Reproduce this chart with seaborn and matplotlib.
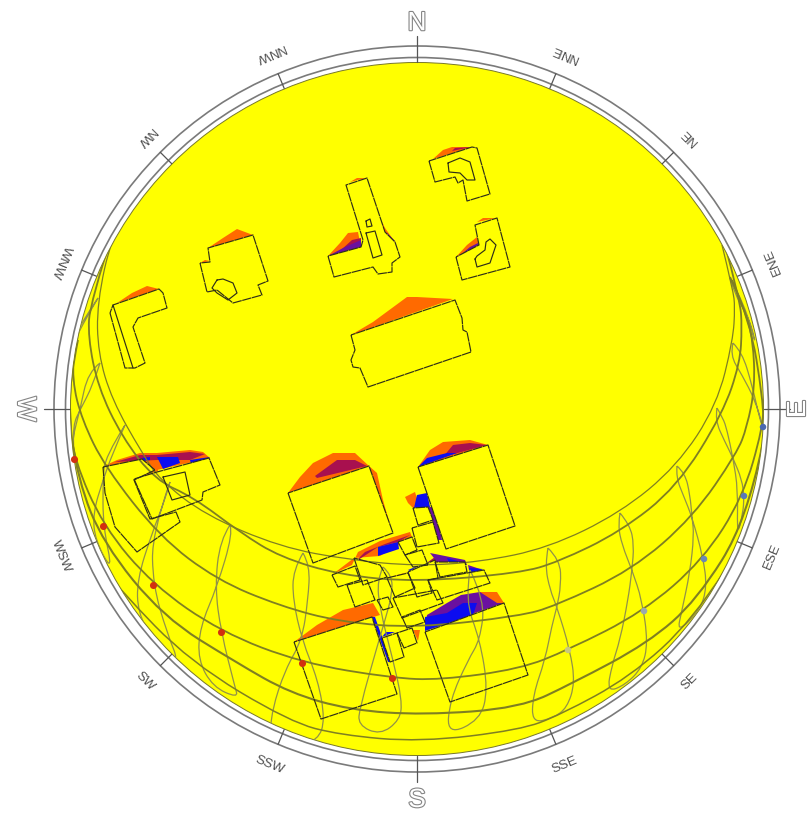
import numpy as np
import seaborn as sns
import matplotlib.pyplot as plt
import matplotlib.patheffects as pe
from matplotlib.patches import Circle, PathPatch
from matplotlib.path import Path

# compass
directions = ['N', 'NNE', 'NE', 'ENE', 'E', 'ESE', 'SE', 'SSE', 'S', 'SSW', 'SW', 'WSW', 'W', 'WNW', 'NW', 'NNW']
bearings = [0, 22.5, 45, 67.5, 90, 112.5, 135, 157.5, 180, 202.5, 225, 247.5, 270, 292.5, 315, 337.5]
major_radius = {'N': 390, 'E': 381, 'S': 391, 'W': 392}

# sun path date lines, picture coordinates
arc1 = [(125, 215), (112, 235), (97, 303), (98, 353), (112, 400), (142, 453), (160, 480), (205, 515), (280, 547), (350, 560), (416, 566), (480, 562), (548, 548), (620, 513), (677, 466), (717, 405), (733, 340), (735, 307), (733, 290), (722, 245)]
arc2 = [(115, 225), (90, 303), (88, 337), (98, 387), (122, 437), (155, 480), (193, 497), (241, 533), (280, 557), (340, 575), (416, 582), (520, 573), (558, 562), (620, 532), (677, 487), (723, 413), (740, 363), (742, 327), (740, 300), (725, 245)]
arc3 = [(95, 260), (75, 337), (72, 380), (82, 420), (105, 467), (160, 537), (217, 580), (280, 606), (340, 622), (416, 628), (520, 616), (555, 606), (632, 570), (693, 517), (737, 453), (747, 427), (755, 387), (753, 340), (745, 310), (730, 277)]
arc4 = [(78, 340), (70, 380), (70, 420), (74, 459), (103, 526), (153, 585), (221, 632), (302, 663), (392, 678), (440, 680), (520, 669), (568, 650), (643, 612), (703, 560), (743, 497), (763, 427), (763, 400), (750, 320), (732, 280)]
arc5 = [(72, 440), (78, 480), (103, 543), (163, 617), (237, 663), (290, 693), (350, 710), (423, 715), (520, 708), (573, 683), (648, 643), (697, 600), (747, 520), (762, 447)]
arc6 = [(100, 565), (120, 590), (190, 662), (290, 722), (340, 735), (420, 742), (520, 730), (560, 715), (630, 677), (693, 620), (725, 570)]
date_lines = [arc1, arc2, arc3, arc4, arc5, arc6]
date_widths = [0.9, 1.3, 1.3, 1.3, 1.5, 1.1]

# analemmas
ana1 = [(717, 408), (715, 420), (725, 442), (733, 458), (742, 480), (744, 497), (743, 513), (737, 537), (738, 490), (733, 458), (727, 430), (723, 418), (717, 408)]
ana2 = [(677, 466), (676, 477), (684, 497), (692, 517), (703, 557), (707, 587), (700, 610), (677, 633), (682, 610), (690, 572), (694, 535), (692, 517), (690, 495), (685, 473), (677, 466)]
ana3 = [(620, 513), (618, 525), (622, 545), (632, 570), (642, 600), (648, 643), (642, 668), (625, 685), (607, 692), (612, 665), (620, 640), (628, 600), (632, 570), (634, 545), (630, 525), (620, 513)]
ana4 = [(548, 548), (545, 565), (550, 590), (557, 607), (570, 650), (575, 683), (567, 708), (553, 718), (532, 723), (533, 695), (545, 660), (552, 625), (557, 607), (561, 585), (560, 560), (548, 548)]
ana5 = [(470, 570), (465, 600), (480, 640), (488, 690), (480, 720), (447, 735), (450, 700), (468, 660), (480, 640), (485, 600), (470, 570)]
ana6 = [(383, 567), (377, 580), (380, 610), (393, 660), (402, 700), (400, 720), (380, 735), (358, 725), (360, 707), (377, 647), (385, 620), (392, 595), (392, 575), (383, 567)]
ana7 = [(303, 553), (293, 570), (293, 600), (302, 640), (318, 680), (325, 720), (318, 740), (293, 748), (270, 738), (272, 710), (285, 670), (302, 640), (308, 600), (310, 565), (303, 553)]
ana8 = [(230, 525), (220, 540), (215, 587), (221, 632), (235, 687), (238, 698), (213, 687), (198, 660), (200, 627), (217, 587), (233, 533), (230, 525)]
ana9 = [(170, 482), (152, 533), (153, 585), (167, 633), (180, 665), (153, 640), (138, 613), (137, 580), (152, 533), (165, 500), (170, 482)]
ana10 = [(125, 425), (105, 457), (103, 480), (103, 526), (113, 573), (95, 540), (93, 513), (103, 480), (112, 455), (125, 425)]
ana11 = [(100, 363), (88, 372), (80, 410), (72, 440), (74, 459), (73, 425), (80, 410), (93, 385), (100, 363)]
ana12 = [(733, 343), (730, 355), (742, 375), (755, 400), (763, 427), (760, 420), (752, 385), (742, 352), (733, 343)]
ana13 = [(98, 298), (80, 325), (75, 337), (73, 350), (75, 340), (85, 320), (98, 298)]
ana14 = [(730, 278), (735, 295), (750, 320), (757, 350), (745, 305), (730, 278)]
analemmas = [ana1, ana2, ana3, ana4, ana5, ana6, ana7, ana8, ana9, ana10, ana11, ana12, ana13, ana14]

# sun position markers
red_x = [74, 103, 153, 221, 302, 392]
red_y = [459, 526, 585, 632, 663, 678]
blue_x = [763, 744, 704, 644, 568]
blue_y = [427, 496, 559, 611, 650]
blue_tone = ['#4a68b0', '#5a78b8', '#6a88b8', '#9aa8b0', '#c8c880']

# building footprints
buildings = [
    [(429, 161), (435, 182), (455, 177), (458, 183), (463, 180), (467, 201), (490, 194), (477, 148), (472, 147)],
    [(328, 256), (334, 277), (373, 267), (378, 274), (392, 272), (392, 263), (400, 257), (395, 242), (385, 232), (367, 178), (346, 185), (363, 240), (361, 247)],
    [(456, 257), (462, 280), (510, 267), (497, 218), (475, 225), (479, 245)],
    [(351, 335), (355, 350), (351, 360), (353, 367), (360, 368), (368, 387), (471, 352), (467, 332), (463, 330), (462, 318), (455, 300)],
    [(110, 313), (125, 368), (135, 368), (145, 363), (133, 327), (138, 318), (167, 308), (163, 293), (159, 289), (113, 305)],
    [(200, 263), (207, 292), (217, 290), (233, 303), (262, 295), (258, 285), (268, 281), (253, 235), (208, 248), (210, 262)],
    [(103, 467), (105, 493), (115, 527), (137, 552), (180, 522), (176, 512), (150, 519), (134, 480), (155, 470), (142, 459)],
    [(134, 479), (152, 519), (202, 500), (203, 492), (220, 485), (209, 458), (157, 472)],
    [(288, 493), (313, 563), (393, 533), (369, 466)],
    [(418, 467), (446, 549), (515, 526), (488, 445)],
    [(425, 632), (450, 702), (528, 675), (504, 603)],
    [(294, 642), (321, 719), (397, 694), (372, 617)],
    [(332, 575), (338, 587), (360, 580), (355, 566)],
    [(354, 558), (363, 585), (387, 577), (380, 565)],
    [(347, 585), (355, 607), (375, 600), (367, 580)],
    [(398, 542), (405, 555), (417, 550), (412, 537)],
    [(413, 508), (418, 525), (433, 520), (428, 507)],
    [(412, 528), (417, 547), (439, 543), (433, 522)],
    [(405, 555), (413, 567), (428, 565), (422, 550)],
    [(408, 572), (417, 597), (432, 593), (428, 580), (438, 578), (435, 560)],
    [(387, 578), (408, 573), (415, 588), (395, 597)],
    [(393, 598), (402, 618), (443, 603), (437, 590)],
    [(402, 617), (407, 628), (425, 622), (420, 610)],
    [(428, 580), (437, 600), (490, 583), (484, 570)],
    [(435, 562), (440, 577), (467, 572), (465, 562)],
    [(377, 600), (383, 610), (393, 607), (388, 597)],
    [(382, 638), (390, 662), (404, 657), (397, 633)],
    [(397, 633), (404, 648), (417, 643), (412, 628)],
]

# courtyards and inner outlines
inner_rings = [
    [(448, 163), (449, 172), (460, 173), (467, 180), (475, 180), (470, 162), (460, 158)],
    [(366, 233), (375, 231), (382, 255), (373, 258)],
    [(366, 221), (370, 219), (372, 226), (367, 227)],
    [(475, 259), (477, 267), (490, 263), (496, 245), (490, 239), (486, 242), (485, 250), (477, 256)],
    [(217, 280), (212, 288), (217, 293), (228, 300), (237, 293), (233, 283), (223, 279)],
    [(163, 477), (172, 500), (190, 495), (185, 472)],
    [(113, 305), (133, 368)],
]

# overshadowing hours, one list per band
orange_zones = [
    [(433, 159), (443, 150), (452, 147), (472, 147)],
    [(328, 256), (340, 243), (348, 233), (358, 232), (361, 247)],
    [(380, 218), (385, 228), (395, 242), (385, 240)],
    [(350, 182), (357, 178), (366, 178)],
    [(456, 257), (467, 245), (477, 237), (479, 245)],
    [(477, 222), (483, 218), (496, 218)],
    [(351, 335), (373, 322), (407, 297), (417, 297), (453, 299)],
    [(117, 303), (132, 293), (147, 286), (159, 289)],
    [(208, 248), (223, 238), (237, 229), (253, 235)],
    [(200, 263), (205, 260), (210, 261)],
    [(104, 466), (117, 460), (140, 453), (157, 453), (190, 450), (203, 452), (210, 458), (157, 470)],
    [(137, 478), (158, 468), (158, 471)],
    [(288, 493), (300, 477), (313, 463), (333, 453), (355, 453), (369, 466)],
    [(369, 466), (377, 473), (383, 500), (392, 532), (386, 530), (378, 500)],
    [(418, 467), (430, 450), (443, 442), (470, 440), (488, 445)],
    [(294, 642), (317, 625), (343, 610), (373, 603), (380, 615)],
    [(405, 497), (415, 492), (420, 508), (413, 508), (408, 503)],
    [(333, 574), (352, 565), (358, 552), (380, 541), (410, 532), (412, 537), (380, 556), (354, 558)],
    [(428, 580), (467, 574), (437, 587)],
    [(387, 578), (408, 572), (390, 579)],
    [(447, 610), (461, 600), (480, 592), (497, 592), (504, 603), (470, 610)],
    [(413, 630), (420, 630), (418, 641)],
]
maroon_zones = [
    [(452, 151), (471, 147), (455, 148)],
    [(315, 476), (337, 460), (355, 460), (367, 466), (317, 478)],
    [(443, 457), (453, 445), (470, 443), (487, 445)],
    [(341, 250), (352, 240), (361, 238), (361, 247)],
    [(355, 562), (365, 552), (385, 544), (410, 535), (398, 542), (378, 547)],
    [(115, 462), (140, 455), (157, 455), (190, 452), (205, 454), (190, 460), (157, 460)],
    [(430, 582), (465, 575), (440, 586)],
    [(428, 562), (435, 557), (462, 560), (465, 565)],
]
purple_zones = [
    [(328, 256), (345, 247), (361, 240), (361, 247)],
    [(387, 233), (395, 241), (393, 243), (385, 238)],
    [(458, 257), (470, 247), (478, 243), (479, 245)],
    [(425, 630), (427, 615), (447, 603), (461, 595), (480, 592), (497, 603), (504, 603)],
    [(430, 553), (465, 560), (467, 565), (448, 565), (437, 562)],
    [(468, 565), (483, 570), (470, 575)],
    [(428, 507), (435, 507), (442, 540), (438, 540)],
]
blue_zones = [
    [(157, 457), (178, 457), (180, 463), (163, 469)],
    [(190, 460), (210, 457), (192, 467)],
    [(142, 458), (150, 457), (150, 460), (144, 461)],
    [(418, 467), (427, 458), (447, 453), (457, 453)],
    [(414, 508), (417, 495), (427, 493), (430, 507)],
    [(378, 547), (398, 542), (399, 549), (378, 556)],
    [(447, 558), (461, 562), (450, 565)],
    [(469, 568), (483, 569), (470, 574)],
    [(425, 631), (473, 615), (477, 603), (463, 603), (447, 613), (425, 617)],
    [(372, 617), (375, 617), (391, 662), (388, 662)],
    [(382, 637), (395, 632), (386, 632)],
    [(403, 552), (417, 550), (405, 555)],
    [(408, 570), (420, 565), (410, 571)],
    [(418, 600), (430, 596), (432, 598), (420, 602)],
]
zone_bands = [(orange_zones, '#ff6a00'), (maroon_zones, '#a8104f'), (purple_zones, '#6a10a0'), (blue_zones, '#0c0cf0')]


def rounded_line(points, **kwargs):
    # read points act as control points, so the curve has no corners
    verts, codes = [points[0]], [Path.MOVETO]
    for i in range(1, len(points) - 1):
        if i < len(points) - 2:
            end = ((points[i][0] + points[i + 1][0]) / 2, (points[i][1] + points[i + 1][1]) / 2)
        else:
            end = points[i + 1]
        verts += [points[i], end]
        codes += [Path.CURVE3, Path.CURVE3]
    patch = PathPatch(Path(verts, codes), fc='none', **kwargs)
    ax.add_patch(patch)
    patch.set_clip_path(dome)


sns.set_theme(style='white')
fig, ax = plt.subplots(figsize=(8.12, 8.14), dpi=100)
fig.subplots_adjust(0, 0, 1, 1)
ax.set_xlim(0, 812)
ax.set_ylim(814, 0)
ax.set_aspect('equal')

cx, cy = 417, 409
dome = Circle((cx, cy), 346.5, fc='#ffff00', ec='#77772a', lw=0.7, zorder=1)
ax.add_patch(dome)
for r in [351.5, 363]:
    ax.add_patch(Circle((cx, cy), r, fc='none', ec='#7a7a7a', lw=1.2, zorder=1))

# compass ticks and labels
for name, b in zip(directions, bearings):
    sx, sy = np.sin(np.radians(b)), -np.cos(np.radians(b))
    major = len(name) == 1
    outer = 373 if major else 363
    ax.plot([cx + 347 * sx, cx + outer * sx], [cy + 347 * sy, cy + outer * sy], color='#555555', lw=0.9, zorder=2)
    if major:
        r = major_radius[name]
        t = ax.text(cx + r * sx, cy + r * sy, name, rotation=180 - b, ha='center', va='center',
                    fontsize=19, color='white', family='Liberation Sans', zorder=5)
        t.set_path_effects([pe.withStroke(linewidth=1.6, foreground='#858585')])
    else:
        ax.text(cx + 385 * sx, cy + 385 * sy, name, rotation=180 - b, ha='center', va='center',
                fontsize=9.5, color='#505050', family='Liberation Sans', zorder=5)

# shading bands then buildings
for zones, col in zone_bands:
    for z in zones:
        xs, ys = zip(*z)
        ax.fill(xs, ys, color=col, lw=0, zorder=3)
for b in buildings:
    xs, ys = zip(*b)
    ax.fill(xs, ys, fc='#ffff00', ec='none', zorder=4)

# sun path
for a in analemmas:
    rounded_line(a, ec='#929248', lw=0.9, zorder=5)
for line, w in zip(date_lines, date_widths):
    rounded_line(line, ec='#7f7f22', lw=w, zorder=5)

for b in buildings:
    xs, ys = zip(*(b + b[:1]))
    ax.plot(xs, ys, color='#2f2f18', lw=0.85, ls=(0, (8, 0.5)), zorder=6)
for b in inner_rings:
    closed = b + b[:1] if len(b) > 2 else b
    xs, ys = zip(*closed)
    ax.plot(xs, ys, color='#2f2f18', lw=0.85, zorder=6)

sns.scatterplot(x=red_x, y=red_y, color='#d2300f', s=26, linewidth=0, ax=ax, zorder=7)
sns.scatterplot(x=blue_x, y=blue_y, hue=blue_tone, palette={c: c for c in blue_tone}, s=22, linewidth=0, legend=False, ax=ax, zorder=7)
ax.set_xlim(0, 812)
ax.set_ylim(814, 0)
ax.axis('off')

fig.savefig('out.png', dpi=100)
